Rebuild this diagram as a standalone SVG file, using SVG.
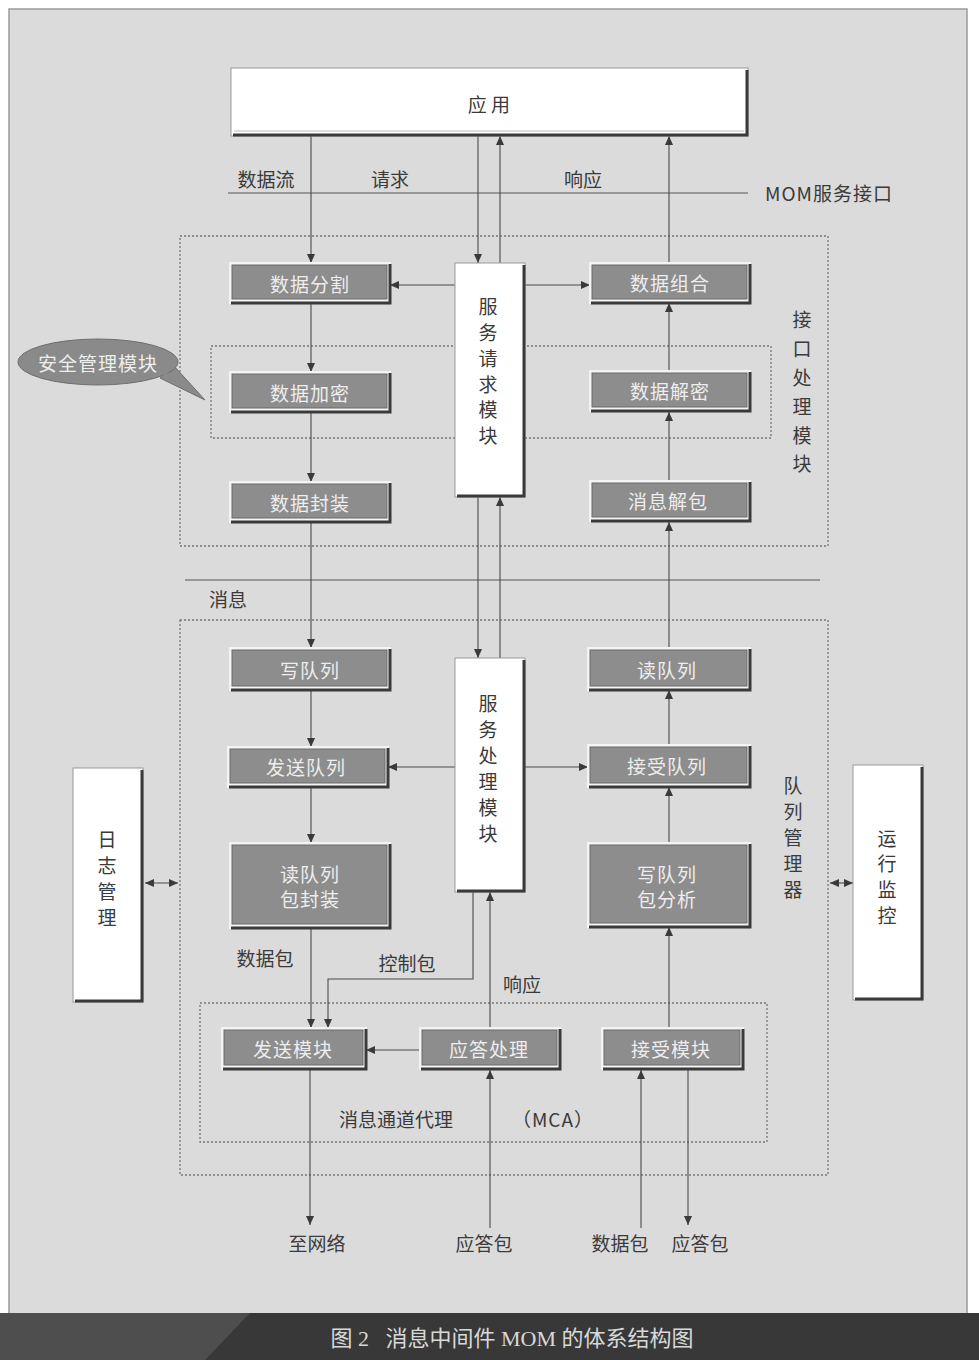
<svg xmlns="http://www.w3.org/2000/svg" width="979" height="1360" viewBox="0 0 979 1360">
<defs>
<marker id="ah" markerUnits="userSpaceOnUse" markerWidth="9" markerHeight="8" refX="9" refY="4" orient="auto-start-reverse"><path d="M0,0 L9,4 L0,8 z" fill="#3a3a3a"/></marker>
<style>
.t{font-family:"Noto Sans CJK SC","Noto Sans",sans-serif;fill:#3a3a3a;text-anchor:middle;dominant-baseline:central}
.tl{font-size:19px}
.tw{font-family:"Noto Sans CJK SC","Noto Sans",sans-serif;fill:#eeeeee;text-anchor:middle;dominant-baseline:central;font-size:19px;letter-spacing:1px}
.hi{fill:#f4f4f4}
.sh{fill:none;stroke:#3a3a3a;stroke-width:3}
.gf{fill:#8d8d8d;stroke:#6a6a6a;stroke-width:1}
.wf{fill:#ffffff;stroke:#9a9a9a;stroke-width:1}
.dot{fill:none;stroke:#777;stroke-width:1.3;stroke-dasharray:2,2}
.ln{fill:none;stroke:#555;stroke-width:1.2}
.c{fill:none;stroke:#4a4a4a;stroke-width:1.1;marker-end:url(#ah)}
.d{fill:none;stroke:#4a4a4a;stroke-width:1.1;marker-end:url(#ah);marker-start:url(#ah)}
</style>
</defs>
<rect x="0" y="0" width="979" height="1360" fill="#ffffff"/>
<rect x="9" y="9" width="958" height="1306" fill="#dbdbdb" stroke="#9a9a9a" stroke-width="1.5"/>
<g id="caption">
<rect x="0" y="1313" width="979" height="47" fill="#383838"/>
<polygon points="0,1313 250,1313 205,1360 0,1360" fill="#4e4e4e"/>
<text x="512" y="1338" font-family="Liberation Serif,Noto Sans CJK SC,serif" font-size="22" fill="#d8d8d8" text-anchor="middle" dominant-baseline="central" xml:space="preserve">图 2   消息中间件 MOM 的体系结构图</text>
</g>
<g id="frames">
<rect class="dot" x="180" y="236" width="648" height="310"/>
<rect class="dot" x="211" y="346" width="560" height="92"/>
<rect class="dot" x="180" y="620" width="648" height="555"/>
<rect class="dot" x="200" y="1003" width="567" height="139"/>
<line class="ln" x1="228" y1="193" x2="748" y2="193"/>
<line class="ln" x1="185" y1="580" x2="820" y2="580"/>
</g>
<g id="connectors">
<path class="c" d="M311,136 V263"/>
<path class="c" d="M478,136 V263"/>
<path class="c" d="M500,263 V136"/>
<path class="c" d="M669,263 V136"/>
<path class="c" d="M455,285 H390"/>
<path class="c" d="M525,285 H590"/>
<path class="c" d="M311,303 V372"/>
<path class="c" d="M311,412 V482"/>
<path class="c" d="M669,480 V412"/>
<path class="c" d="M669,370 V303"/>
<path class="c" d="M311,522 V648"/>
<path class="c" d="M669,648 V522"/>
<path class="c" d="M478,497 V658"/>
<path class="c" d="M500,658 V497"/>
<path class="c" d="M311,690 V747"/>
<path class="c" d="M311,787 V843"/>
<path class="c" d="M455,767 H388"/>
<path class="c" d="M525,767 H588"/>
<path class="c" d="M669,745 V690"/>
<path class="c" d="M669,843 V787"/>
<path class="c" d="M669,1028 V927"/>
<path class="c" d="M311,928 V1028"/>
<path class="c" d="M473,892 V979 H328 V1028"/>
<path class="c" d="M490,1028 V892"/>
<path class="c" d="M420,1050 H366"/>
<path class="c" d="M310,1070 V1225"/>
<path class="c" d="M490,1228 V1070"/>
<path class="c" d="M641,1228 V1070"/>
<path class="c" d="M688,1070 V1225"/>
<path class="d" d="M145,883 H178"/>
<path class="d" d="M830,883 H853"/>
</g>
<g id="labels">
<text class="t tl" x="266" y="178">数据流</text>
<text class="t tl" x="390" y="178">请求</text>
<text class="t tl" x="583" y="178">响应</text>
<text class="t tl" x="829" y="192" letter-spacing="1">MOM服务接口</text>
<text class="t tl" x="228" y="598">消息</text>
<text class="t tl" x="265" y="957">数据包</text>
<text class="t tl" x="407" y="962">控制包</text>
<text class="t tl" x="522" y="983">响应</text>
<text class="t tl" x="396" y="1118">消息通道代理</text>
<text class="t tl" x="553" y="1118" letter-spacing="1">（MCA）</text>
<text class="t tl" x="317" y="1242">至网络</text>
<text class="t tl" x="484" y="1242">应答包</text>
<text class="t tl" x="620" y="1242">数据包</text>
<text class="t tl" x="700" y="1242">应答包</text>
<g class="t tl"><text x="802" y="318">接</text><text x="802" y="347">口</text><text x="802" y="376">处</text><text x="802" y="405">理</text><text x="802" y="434">模</text><text x="802" y="462">块</text></g>
<g class="t tl"><text x="793" y="784">队</text><text x="793" y="810">列</text><text x="793" y="836">管</text><text x="793" y="862">理</text><text x="793" y="888">器</text></g>
</g>
<g id="app">
<rect x="231" y="68" width="517" height="68" class="wf"/>
<path class="sh" d="M747,70 V135 H233"/>
<line x1="234" y1="131" x2="744" y2="131" stroke="#d0d0d0" stroke-width="1.5"/>
<text class="t" x="489" y="103" font-size="19" xml:space="preserve">应 用</text>
</g>
<g id="security">
<path d="M160,378 L205,400 L174,366 z" fill="#8a8a8a" stroke="#6e6e6e"/>
<ellipse cx="98" cy="362" rx="80" ry="23" fill="#8a8a8a" stroke="#6e6e6e"/>
<path d="M166,375 L174,366 L160,378 z" fill="#8a8a8a"/>
<text class="tw" x="98" y="362" font-size="18">安全管理模块</text>
</g>
<g id="n-split"><rect class="hi" x="229" y="262" width="162" height="42"/><path class="sh" d="M390,264 V303 H231"/><rect class="gf" x="232" y="265" width="155" height="34"/><text class="tw" x="310" y="283">数据分割</text></g>
<g id="n-encrypt"><rect class="hi" x="229" y="371" width="162" height="42"/><path class="sh" d="M390,373 V412 H231"/><rect class="gf" x="232" y="374" width="155" height="34"/><text class="tw" x="310" y="392">数据加密</text></g>
<g id="n-wrap"><rect class="hi" x="229" y="481" width="162" height="42"/><path class="sh" d="M390,483 V522 H231"/><rect class="gf" x="232" y="484" width="155" height="34"/><text class="tw" x="310" y="502">数据封装</text></g>
<g id="n-combine"><rect class="hi" x="589" y="262" width="162" height="42"/><path class="sh" d="M750,264 V303 H591"/><rect class="gf" x="592" y="265" width="155" height="34"/><text class="tw" x="670" y="282" letter-spacing="4">数据组合</text></g>
<g id="n-decrypt"><rect class="hi" x="589" y="370" width="162" height="42"/><path class="sh" d="M750,372 V411 H591"/><rect class="gf" x="592" y="373" width="155" height="34"/><text class="tw" x="670" y="390" letter-spacing="3">数据解密</text></g>
<g id="n-unpack"><rect class="hi" x="589" y="480" width="162" height="42"/><path class="sh" d="M750,482 V521 H591"/><rect class="gf" x="592" y="483" width="155" height="34"/><text class="tw" x="668" y="500" letter-spacing="4">消息解包</text></g>
<g id="n-svcreq">
<rect class="wf" x="455" y="263" width="70" height="234"/>
<path class="sh" d="M524,265 V496 H457"/>
<g class="t tl"><text x="488" y="305">服</text><text x="488" y="331">务</text><text x="488" y="357">请</text><text x="488" y="383">求</text><text x="488" y="408">模</text><text x="488" y="434">块</text></g>
</g>
<g id="n-writeq"><rect class="hi" x="229" y="647" width="162" height="44"/><path class="sh" d="M390,649 V690 H231"/><rect class="gf" x="232" y="650" width="155" height="36"/><text class="tw" x="310" y="669">写队列</text></g>
<g id="n-sendq"><rect class="hi" x="227" y="746" width="162" height="42"/><path class="sh" d="M388,748 V787 H229"/><rect class="gf" x="230" y="749" width="155" height="34"/><text class="tw" x="306" y="766">发送队列</text></g>
<g id="n-readpack"><rect class="hi" x="229" y="842" width="162" height="87"/><path class="sh" d="M390,844 V928 H231"/><rect class="gf" x="232" y="845" width="155" height="79"/><text class="tw" x="310" y="873">读队列</text><text class="tw" x="310" y="898">包封装</text></g>
<g id="n-readq"><rect class="hi" x="587" y="647" width="164" height="44"/><path class="sh" d="M750,649 V690 H589"/><rect class="gf" x="590" y="650" width="157" height="36"/><text class="tw" x="667" y="669">读队列</text></g>
<g id="n-recvq"><rect class="hi" x="587" y="744" width="164" height="44"/><path class="sh" d="M750,746 V787 H589"/><rect class="gf" x="590" y="747" width="157" height="36"/><text class="tw" x="667" y="765">接受队列</text></g>
<g id="n-writeparse"><rect class="hi" x="587" y="842" width="164" height="86"/><path class="sh" d="M750,844 V927 H589"/><rect class="gf" x="590" y="845" width="157" height="78"/><text class="tw" x="667" y="873">写队列</text><text class="tw" x="667" y="898">包分析</text></g>
<g id="n-svcproc">
<rect class="wf" x="455" y="658" width="70" height="234"/>
<path class="sh" d="M524,660 V891 H457"/>
<g class="t tl"><text x="488" y="702">服</text><text x="488" y="728">务</text><text x="488" y="754">处</text><text x="488" y="780">理</text><text x="488" y="806">模</text><text x="488" y="832">块</text></g>
</g>
<g id="n-log">
<rect class="wf" x="73" y="768" width="70" height="234"/>
<path class="sh" d="M142,770 V1001 H75"/>
<g class="t tl"><text x="107" y="838">日</text><text x="107" y="864">志</text><text x="107" y="890">管</text><text x="107" y="916">理</text></g>
</g>
<g id="n-monitor">
<rect class="wf" x="853" y="765" width="70" height="235"/>
<path class="sh" d="M922,767 V999 H855"/>
<g class="t tl"><text x="887" y="837">运</text><text x="887" y="862">行</text><text x="887" y="888">监</text><text x="887" y="914">控</text></g>
</g>
<g id="n-sendmod"><rect class="hi" x="221" y="1027" width="146" height="43"/><path class="sh" d="M366,1029 V1069 H223"/><rect class="gf" x="224" y="1030" width="139" height="35"/><text class="tw" x="293" y="1048">发送模块</text></g>
<g id="n-ackproc"><rect class="hi" x="419" y="1027" width="142" height="43"/><path class="sh" d="M560,1029 V1069 H421"/><rect class="gf" x="422" y="1030" width="135" height="35"/><text class="tw" x="489" y="1048">应答处理</text></g>
<g id="n-recvmod"><rect class="hi" x="601" y="1027" width="143" height="43"/><path class="sh" d="M743,1029 V1069 H603"/><rect class="gf" x="604" y="1030" width="136" height="35"/><text class="tw" x="671" y="1048">接受模块</text></g>
</svg>
